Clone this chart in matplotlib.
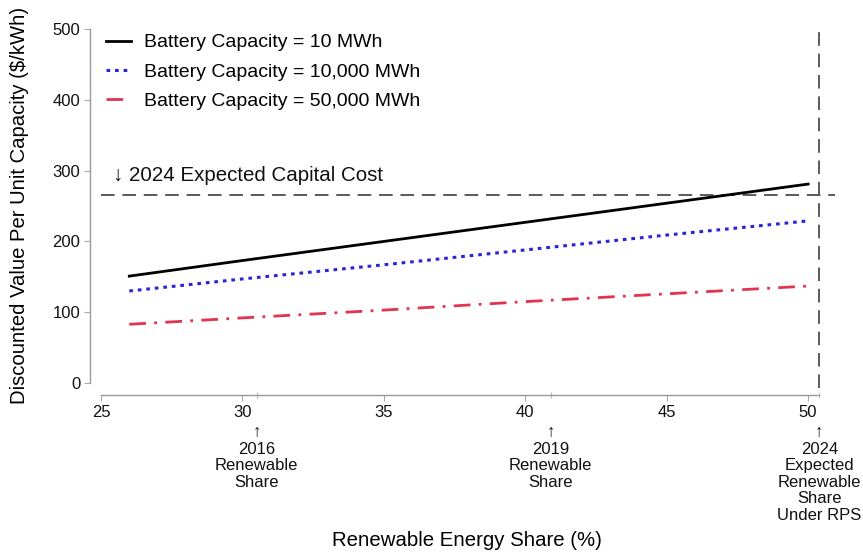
import matplotlib
matplotlib.use("Agg")
import matplotlib.pyplot as plt
import matplotlib.transforms as mtransforms

plt.rcParams['font.family'] = ['Liberation Sans', 'DejaVu Sans']

# Data
share = [26, 30, 35, 40, 45, 50]
val_10 = [151, 173, 200, 227, 254, 281]
val_10000 = [130, 147, 167, 188, 209, 229]
val_50000 = [83, 92, 103, 115, 126, 137]
labels = ["Battery Capacity = 10 MWh", "Battery Capacity = 10,000 MWh",
          "Battery Capacity = 50,000 MWh"]
capital_cost = 265
rps_share = 50.4
marker_shares = [30.5, 40.9, 50.4]
marker_texts = ["\u2191\n2016\nRenewable\nShare",
                "\u2191\n2019\nRenewable\nShare",
                "\u2191\n2024\nExpected\nRenewable\nShare\nUnder RPS"]
xticks = [25, 30, 35, 40, 45, 50]
yticks = [0, 100, 200, 300, 400, 500]

fig = plt.figure(figsize=(8.63, 5.58), dpi=100)
ax = fig.add_axes([101/863, 1-388/558, 734/863, 359/558])

ax.plot(share, val_10, color='black', lw=2.0, label=labels[0])
ax.plot(share, val_10000, color='#2a24d8', lw=2.2, linestyle=(0, (1.2, 1.6)), label=labels[1])
ax.plot(share, val_50000, color='#e3334f', lw=2.0, linestyle=(0, (6, 3, 1, 3)), label=labels[2])

ax.axhline(capital_cost, color='#5a5a5a', lw=1.4, linestyle=(0, (7, 4)), zorder=1)
ax.axvline(rps_share, color='#5a5a5a', lw=1.4, linestyle=(0, (7, 4)), zorder=1)

ax.text(25.42, capital_cost + 14, "\u2193 2024 Expected Capital Cost", fontsize=14.8,
        ha='left', va='bottom', color='#111111')

ax.set_xlim(25, 50.95)
ax.set_ylim(-7, 500)
ax.set_xticks(xticks)
ax.set_yticks(yticks)
ax.set_xticks(marker_shares, minor=True)

for s in ['top', 'right']:
    ax.spines[s].set_visible(False)
ax.spines['left'].set_position(('outward', 7.9))
ax.spines['bottom'].set_position(('outward', 5))
ax.spines['left'].set_bounds(0, 500)
ax.spines['bottom'].set_bounds(25, rps_share)
for s in ['left', 'bottom']:
    ax.spines[s].set_color('#999999')
    ax.spines[s].set_linewidth(1.0)

ax.tick_params(axis='both', which='major', direction='out', length=4, color='#aaaaaa',
               labelsize=12, labelcolor='#111111', width=0.8)
ax.tick_params(axis='x', which='major', pad=3)
ax.tick_params(axis='y', which='major', pad=3)
ax.tick_params(axis='x', which='minor', direction='inout', length=5, color='#bbbbbb', width=0.8)

trans = mtransforms.blended_transform_factory(ax.transData, fig.transFigure)
for xs, t in zip(marker_shares, marker_texts):
    ax.text(xs, 1-425/558, t, transform=trans, ha='center', va='top', fontsize=12,
            linespacing=1.13, color='#111111')

ax.set_xlabel("Renewable Energy Share (%)", fontsize=14.7)
ax.xaxis.set_label_coords(467/863, 1-540/558, transform=fig.transFigure)
ax.xaxis.label.set_va('center')
ax.set_ylabel("Discounted Value Per Unit Capacity ($/kWh)", fontsize=14.6)
ax.yaxis.set_label_coords(20/863, 1-205/558, transform=fig.transFigure)
ax.yaxis.label.set_va('center')

leg = ax.legend(loc='upper left', bbox_to_anchor=(98/863, 1-26/558),
                bbox_transform=fig.transFigure, frameon=False, fontsize=14,
                handlelength=1.3, handletextpad=0.65, labelspacing=0.6, borderaxespad=0)

fig.savefig("out.png", dpi=100, facecolor='white')
